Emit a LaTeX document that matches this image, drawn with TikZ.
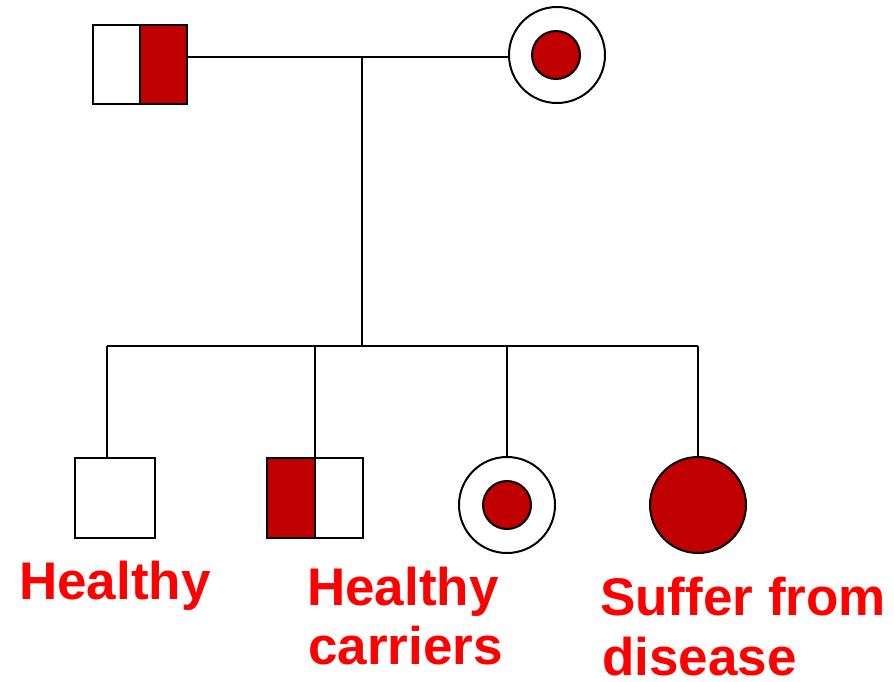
\documentclass[tikz,border=0pt]{standalone}
\usepackage{fontspec}
\setmainfont{Liberation Sans}
\definecolor{dred}{HTML}{C00000}
\definecolor{lred}{HTML}{FF0000}
\begin{document}
\begin{tikzpicture}[x=1pt,y=-1pt,
  conn/.style={line width=2pt},
  sq/.style={draw, line width=2.5pt, inner sep=0pt, outer sep=0pt, fill=white},
  halfsq/.style={sq, minimum width=47pt, minimum height=79pt},
  fullsq/.style={sq, minimum width=80pt, minimum height=80pt},
  ring/.style={draw, circle, line width=2pt, inner sep=0pt, outer sep=0pt, fill=white, minimum size=96pt},
  dot/.style={draw, circle, line width=2pt, inner sep=0pt, outer sep=0pt, fill=dred, minimum size=48pt},
  lab/.style={text=lred, font=\fontsize{53}{60}\selectfont\bfseries, inner sep=0pt, anchor=base west}]
\useasboundingbox (0,0) rectangle (894,681);
\fill[white] (0,0) rectangle (894,681);
% parents
\node[halfsq] (fatherL) at (116.5,64.5) {};
\node[halfsq, fill=dred] (fatherR) at (163.5,64.5) {};
\node[ring] (mother) at (557,55) {};
\node[dot] (motherdot) at (556,55) {};
\coordinate (mate) at (362,57);
\coordinate (sib) at (362,346);
\coordinate (sibL) at (107,346);
\coordinate (sibR) at (698,346);
\draw[conn] (fatherR.east |- mate) -- (mate) -- (mother.west |- mate);
\draw[conn] (mate) -- (sib);
\draw[conn] (sibL) -- (sibR);
% children
\node[fullsq] (c1) at (115,498) {};
\node[halfsq, fill=dred, minimum height=80pt, minimum width=48pt] (c2L) at (291,498) {};
\node[halfsq, minimum height=80pt, minimum width=48pt] (c2R) at (339,498) {};
\node[ring] (c3) at (507,505) {};
\node[dot] (c3dot) at (507,505) {};
\node[ring, fill=dred] (c4) at (698,505) {};
\draw[conn] (sibL) -- (sibL |- c1.north);
\draw[conn] (c2R.north west |- sibL) -- (c2R.north west);
\draw[conn] (c3.north |- sibL) -- (c3.north);
\draw[conn] (sibR) -- (c4.north);
% labels
\node[lab] (l1) at (19,599) {Healthy};
\node[lab] (l2a) at (307,605) {Healthy};
\node[lab] (l2b) at (308,664) {carriers};
\node[lab] (l3a) at (600,615) {Suffer from};
\node[lab] (l3b) at (602,675) {\smash{disease}};
\end{tikzpicture}
\end{document}
